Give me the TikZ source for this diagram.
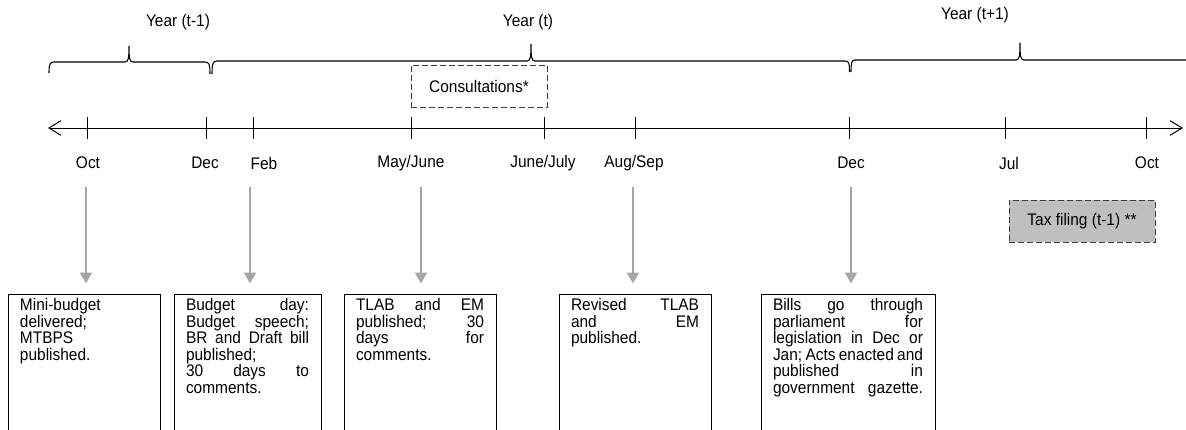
\documentclass[tikz,border=0pt]{standalone}
\usepackage{fontspec}
\setmainfont[FakeStretch=0.92]{Liberation Sans}
\usetikzlibrary{arrows.meta}
\begin{document}
\begin{tikzpicture}[x=0.75pt,y=-0.75pt,
  lbl/.style={font=\fontsize{12.6}{12.4}\selectfont, inner sep=0pt},
  br/.style={line width=0.8pt, black},
  axisline/.style={line width=0.75pt, {Straight Barb[length=9pt,width=11pt]}-{Straight Barb[length=9pt,width=11pt]}},
  tick/.style={line width=0.75pt},
  garrow/.style={line width=1pt, draw={rgb,255:red,166;green,166;blue,166}, -{Triangle[length=8pt,width=9pt]}, shorten >=8pt},
  evbox/.style={draw, line width=0.75pt, anchor=north, align=left, inner xsep=9pt, inner ysep=3pt,
     font=\fontsize{12.6}{12.4}\selectfont, text depth=110pt},
  dbox/.style={draw={rgb,255:red,60;green,60;blue,60}, line width=0.75pt, dash pattern=on 4.5pt off 2.25pt,
     font=\fontsize{12.6}{12.4}\selectfont, inner sep=0pt, minimum height=31.5pt}
]
\useasboundingbox (0,0) rectangle (1186,429);
\clip (0,0) rectangle (1186,429);

% year labels
\node[lbl] (yt1) at (178,22) {Year (t-1)};
\node[lbl] (yt) at (528,22) {Year (t)};
\node[lbl] (yt2) at (975,15) {Year (t+1)};

% braces
\draw[br] (49,73) .. controls (49,64) and (50,62) .. (54,62) -- (125,62)
  .. controls (128.5,62) and (129,58) .. (129,46)
  .. controls (129,58) and (129.5,62) .. (133,62) -- (205,62)
  .. controls (209,62) and (210,64) .. (210,74);
\draw[br] (212,74) .. controls (212,64) and (213,61) .. (217,61) -- (527,61)
  .. controls (530.5,61) and (531,57) .. (531,44)
  .. controls (531,57) and (531.5,61) .. (535,61) -- (845,61)
  .. controls (849,61) and (849.5,63) .. (849.5,72);
\draw[br] (851,72) .. controls (851,63) and (851.5,60) .. (855,60) -- (1016,60)
  .. controls (1019.5,60) and (1020,56) .. (1020,43)
  .. controls (1020,56) and (1020.5,60) .. (1024,60) -- (1190,60);

% consultations
\node[dbox, minimum width=102pt] (cons) at (479,86) {Consultations*};

% axis
\coordinate (axL) at (48,128);
\coordinate (axR) at (1183,128);
\draw[axisline] (axL) -- (axR);
\foreach \x in {87,206,253,411,544,635,849,1005,1146}
  \draw[tick] (\x,117) -- (\x,139);

% month labels
\node[lbl] (m1) at (88,163) {Oct};
\node[lbl] (m2) at (205,163) {Dec};
\node[lbl] (m3) at (264,163) {Feb};
\node[lbl] (m4) at (411,163) {May/June};
\node[lbl] (m5) at (543,163) {June/July};
\node[lbl] (m6) at (634,163) {Aug/Sep};
\node[lbl] (m7) at (851,163) {Dec};
\node[lbl] (m8) at (1009,163) {Jul};
\node[lbl] (m9) at (1147,163) {Oct};

% tax filing
\node[dbox, fill={rgb,255:red,191;green,191;blue,191}, minimum width=109.5pt] (tax) at (1082,221) {Tax filing (t-1) **};

% event boxes
\node[evbox, text width=96pt] (b1) at (84,294) {Mini-budget\\ delivered;\\ MTBPS\\ published.};
\node[evbox, text width=92.25pt] (b2) at (247.5,294) {Budget\hfill day:\\ Budget\hfill speech;\\ BR\hfill and\hfill Draft\hfill bill\\ published;\\ 30\hfill days\hfill to\\ comments.};
\node[evbox, text width=96pt] (b3) at (420,294) {TLAB\hfill and\hfill EM\\ published;\hfill 30\\ days\hfill for\\ comments.};
\node[evbox, text width=96pt] (b4) at (635,294) {Revised\hfill TLAB\\ and\hfill EM\\ published.};
\node[evbox, text width=112.5pt] (b5) at (848,294) {Bills\hfill go\hfill through\\ parliament\hfill for\\ legislation\hfill in\hfill Dec\hfill or\\ Jan;\hfill Acts\hfill enacted\hfill and\\ published\hfill in\\ government\hfill gazette.};

% arrows
\coordinate (s1) at (86,187);
\coordinate (s2) at (250,187);
\coordinate (s3) at (421,187);
\coordinate (s4) at (633,187);
\coordinate (s5) at (851,187);
\draw[garrow] (s1) -- (s1 |- b1.north);
\draw[garrow] (s2) -- (s2 |- b2.north);
\draw[garrow] (s3) -- (s3 |- b3.north);
\draw[garrow] (s4) -- (s4 |- b4.north);
\draw[garrow] (s5) -- (s5 |- b5.north);
\end{tikzpicture}
\end{document}
